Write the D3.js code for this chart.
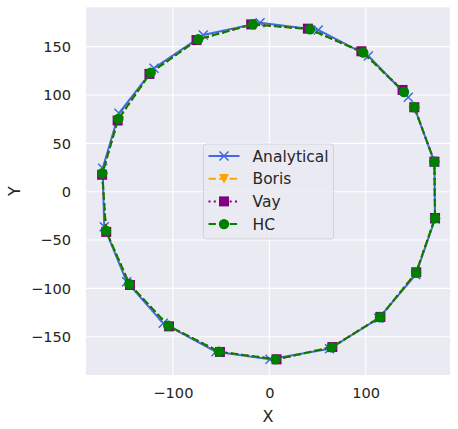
<!DOCTYPE html>
<html>
<head>
<meta charset="utf-8">
<script src="https://cdn.jsdelivr.net/npm/d3@7"></script>
<style>
  body { margin: 0; background: #ffffff; }
  text { font-family: 'DejaVu Sans', sans-serif; fill: #262626; }
</style>
</head>
<body>
<div id="chart"></div>
<script>
// trajectory points [x, y] for each method
const analytical = [
  [150.4, 87.3], [171.3, 30.4], [171.8, -28.6], [151.8, -85.8], [113.5, -131],
  [62.5, -162.5], [0.7, -173.4], [-55.3, -165.5], [-110, -136.1], [-147.9, -93.1],
  [-171.2, -36.2], [-172.8, 24.2], [-155.9, 81.1], [-119.6, 127.6], [-68.5, 162.1],
  [-9.6, 174.8], [50.8, 167.3], [102.7, 140.4], [144.2, 97.7]
]
const boris = [
  [150.4, 87.3], [171.2, 31.1], [171.9, -27.2], [152.4, -83.4], [115.2, -129.5],
  [65.4, -160.7], [7.5, -173.4], [-51.2, -165.8], [-104, -139.3], [-144.5, -96.5],
  [-169.1, -41.6], [-173.4, 17.5], [-157.3, 73.6], [-124.3, 121.8], [-75.5, 156.8],
  [-18.8, 173], [40, 168.6], [95.5, 145.2], [138.2, 105.2]
]
const vay = [
  [150.4, 87.3], [171.2, 31.1], [171.9, -27.2], [152.4, -83.4], [115.2, -129.5],
  [65.4, -160.7], [7.5, -173.4], [-51.2, -165.8], [-104, -139.3], [-144.5, -96.5],
  [-169.1, -41.6], [-173.4, 17.5], [-157.3, 73.6], [-124.3, 121.8], [-75.5, 156.8],
  [-18.8, 173], [40, 168.6], [95.5, 145.2], [138.2, 105.2]
]
const hc = [
  [150.4, 87.3], [171.2, 31], [171.9, -27.5], [152.2, -83.8], [114.8, -129.9],
  [64.7, -161], [6.6, -173.4], [-52.2, -165.5], [-104.8, -138.6], [-145.2, -95.5],
  [-169.4, -40.3], [-173.2, 19], [-156.6, 75.2], [-123, 123.1], [-73.7, 157.6],
  [-16.9, 173.2], [42.2, 168], [97.5, 143.8], [139.7, 103.1]
]
const seriesNames = ['Analytical', 'Boris', 'Vay', 'HC']
const xTicks = [-100, 0, 100]
const yTicks = [-150, -100, -50, 0, 50, 100, 150]

let initChart = () => {
  let width = 458
  let height = 429
  let left = 86
  let right = 450
  let top = 7.3
  let bottom = 375

  let svg = d3
    .select('#chart')
    .append('svg')
    .attr('width', width)
    .attr('height', height)

  let x = d3.scaleLinear().domain([-190.1, 187.4]).range([left, right])
  let y = d3.scaleLinear().domain([-189.6, 190.7]).range([bottom, top])

  svg
    .append('rect')
    .attr('x', left)
    .attr('y', top)
    .attr('width', right - left)
    .attr('height', bottom - top)
    .attr('fill', '#eaeaf2')

  // grid
  let grid = svg.append('g').attr('class', 'grid')
  grid
    .selectAll('line.gx')
    .data(xTicks)
    .enter()
    .append('line')
    .attr('x1', d => x(d))
    .attr('x2', d => x(d))
    .attr('y1', top)
    .attr('y2', bottom)
    .attr('stroke', '#ffffff')
    .attr('stroke-width', 1.1)
  grid
    .selectAll('line.gy')
    .data(yTicks)
    .enter()
    .append('line')
    .attr('y1', d => y(d))
    .attr('y2', d => y(d))
    .attr('x1', left)
    .attr('x2', right)
    .attr('stroke', '#ffffff')
    .attr('stroke-width', 1.1)

  // axes (labels only, seaborn darkgrid has no spines)
  let fmt = d => (d < 0 ? '\u2212' + Math.abs(d) : '' + d)
  let xAxis = svg
    .append('g')
    .attr('transform', 'translate(0,' + (bottom + 4) + ')')
    .call(d3.axisBottom(x).tickValues(xTicks).tickSize(0).tickPadding(9).tickFormat(fmt))
  let yAxis = svg
    .append('g')
    .attr('transform', 'translate(' + (left - 4) + ',0)')
    .call(d3.axisLeft(y).tickValues(yTicks).tickSize(0).tickPadding(11).tickFormat(fmt))
  ;[xAxis, yAxis].forEach(a => {
    a.select('.domain').remove()
    a.selectAll('text')
      .style('font-family', "'DejaVu Sans', sans-serif")
      .style('font-size', '14.6px')
      .attr('fill', '#262626')
  })

  svg
    .append('text')
    .attr('x', (left + right) / 2)
    .attr('y', 422)
    .attr('text-anchor', 'middle')
    .style('font-size', '16px')
    .text('X')
  svg
    .append('text')
    .attr('transform', 'translate(20,' + (top + bottom) / 2 + ') rotate(-90)')
    .attr('text-anchor', 'middle')
    .style('font-size', '16px')
    .text('Y')

  let styles = [
    { color: '#4169e1', dash: null, marker: 'x' },
    { color: '#ffa500', dash: '7.4,3.2', marker: 'v' },
    { color: '#800080', dash: '2,3.3', marker: 's' },
    { color: '#008000', dash: '7.4,3.2', marker: 'o' }
  ]
  let allData = [analytical, boris, vay, hc]

  let drawMarker = (g, kind, color) => {
    if (kind === 'x') {
      g.append('path')
        .attr('d', 'M-4.5,-4.5L4.5,4.5M-4.5,4.5L4.5,-4.5')
        .attr('stroke', color)
        .attr('stroke-width', 1.5)
        .attr('fill', 'none')
    } else if (kind === 'v') {
      g.append('path')
        .attr('d', 'M-5,-4.6L5,-4.6L0,5Z')
        .attr('fill', color)
    } else if (kind === 's') {
      g.append('rect')
        .attr('x', -5)
        .attr('y', -5)
        .attr('width', 10)
        .attr('height', 10)
        .attr('fill', color)
    } else {
      g.append('circle').attr('r', 5.2).attr('fill', color)
    }
  }

  let line = d3
    .line()
    .x(d => x(d[0]))
    .y(d => y(d[1]))

  let plot = svg.append('g').attr('class', 'series')
  allData.forEach((data, i) => {
    let s = styles[i]
    let g = plot.append('g')
    g.append('path')
      .datum(data)
      .attr('d', line)
      .attr('fill', 'none')
      .attr('stroke', s.color)
      .attr('stroke-width', 2)
      .attr('stroke-dasharray', s.dash)
    g.selectAll('g.mk')
      .data(data)
      .enter()
      .append('g')
      .attr('class', 'mk')
      .attr('transform', d => 'translate(' + x(d[0]) + ',' + y(d[1]) + ')')
      .each(function () {
        drawMarker(d3.select(this), s.marker, s.color)
      })
  })

  // legend
  let lg = svg.append('g').attr('transform', 'translate(203.5,144)')
  lg.append('rect')
    .attr('width', 130)
    .attr('height', 95)
    .attr('rx', 3)
    .attr('fill', '#eaeaf2')
    .attr('fill-opacity', 0.8)
    .attr('stroke', '#cccccc')
    .attr('stroke-opacity', 0.8)
  seriesNames.forEach((name, i) => {
    let s = styles[i]
    let ry = 12 + i * 22.7
    lg.append('line')
      .attr('x1', 5)
      .attr('x2', 36)
      .attr('y1', ry)
      .attr('y2', ry)
      .attr('stroke', s.color)
      .attr('stroke-width', 2)
      .attr('stroke-dasharray', s.dash)
    let mg = lg.append('g').attr('transform', 'translate(20.5,' + ry + ')')
    drawMarker(mg, s.marker, s.color)
    lg.append('text')
      .attr('x', 49)
      .attr('y', ry)
      .attr('dy', '0.36em')
      .style('font-size', '15.5px')
      .text(name)
  })
}

initChart()
</script>
</body>
</html>
